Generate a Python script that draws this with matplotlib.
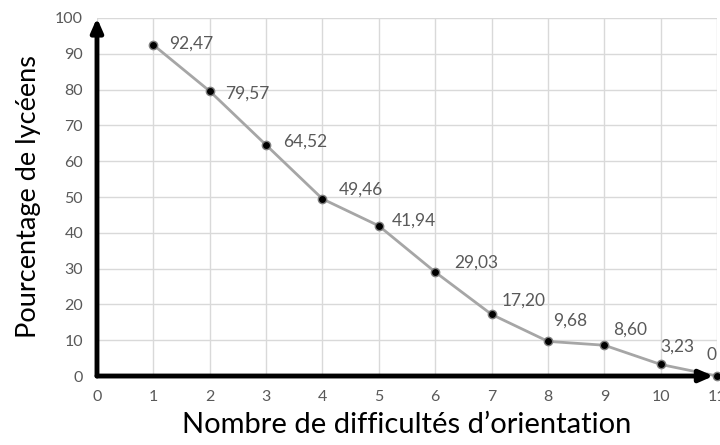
import matplotlib
matplotlib.use("Agg")
import matplotlib.pyplot as plt

difficultes = [1, 2, 3, 4, 5, 6, 7, 8, 9, 10, 11]
pourcentages = [92.47, 79.57, 64.52, 49.46, 41.94, 29.03, 17.20, 9.68, 8.60, 3.23, 0]
etiquettes = ["92,47", "79,57", "64,52", "49,46", "41,94", "29,03", "17,20",
              "9,68", "8,60", "3,23", "0"]

# décalage des étiquettes (pixels) comme dans l'original
dec_x = [16, 15, 17, 16, 13, 19, 10, 5, 9, 0, -6]
dec_y = [1, -2, 3, 9, 5, 9, 14, 21, 16, 18, 21]

plt.rcParams["font.family"] = ["Lato", "DejaVu Sans"]
grey_txt = "#595959"

fig = plt.figure(figsize=(7.2, 4.45), dpi=100)
ax = fig.add_axes([0.1347, 0.155, 0.8613, 0.8046])

ax.plot(difficultes, pourcentages, color="#a6a6a6", lw=2, zorder=3, clip_on=False)
ax.plot(difficultes, pourcentages, "o", ms=6, mfc="black", mec="#7f7f7f", mew=1,
        zorder=4, clip_on=False)

for x, y, t, dx, dy in zip(difficultes, pourcentages, etiquettes, dec_x, dec_y):
    ha = "center" if t == "0" else "left"
    ax.annotate(t, (x, y), xytext=(dx, dy), textcoords="offset pixels",
                ha=ha, va="center", color=grey_txt, fontsize=12.5)

ax.set_xlim(0, 11)
ax.set_ylim(0, 100)
ax.set_xticks(range(0, 12))
ax.set_yticks(range(0, 101, 10))
ax.grid(True, color="#d9d9d9", lw=1)
ax.set_axisbelow(True)
for s in ax.spines.values():
    s.set_visible(False)
ax.tick_params(length=0, labelsize=11.5, labelcolor=grey_txt, pad=10)

# flèches des axes
ax.annotate("", xy=(0, 1.0), xytext=(0, 0), xycoords="axes fraction",
            arrowprops=dict(arrowstyle="-|>,head_length=0.8,head_width=0.35",
                            color="black", lw=3.5, shrinkA=0, shrinkB=0),
            annotation_clip=False, zorder=5)
ax.annotate("", xy=(0.994, 0), xytext=(0, 0), xycoords="axes fraction",
            arrowprops=dict(arrowstyle="-|>,head_length=0.8,head_width=0.35",
                            color="black", lw=3.5, shrinkA=0, shrinkB=0),
            annotation_clip=False, zorder=5)

ax.set_ylabel("Pourcentage de lycéens", fontsize=19.5, color="black", labelpad=10)
ax.set_xlabel("Nombre de difficultés d’orientation", fontsize=21, color="black",
              labelpad=6)

fig.savefig("out.png", dpi=100)
